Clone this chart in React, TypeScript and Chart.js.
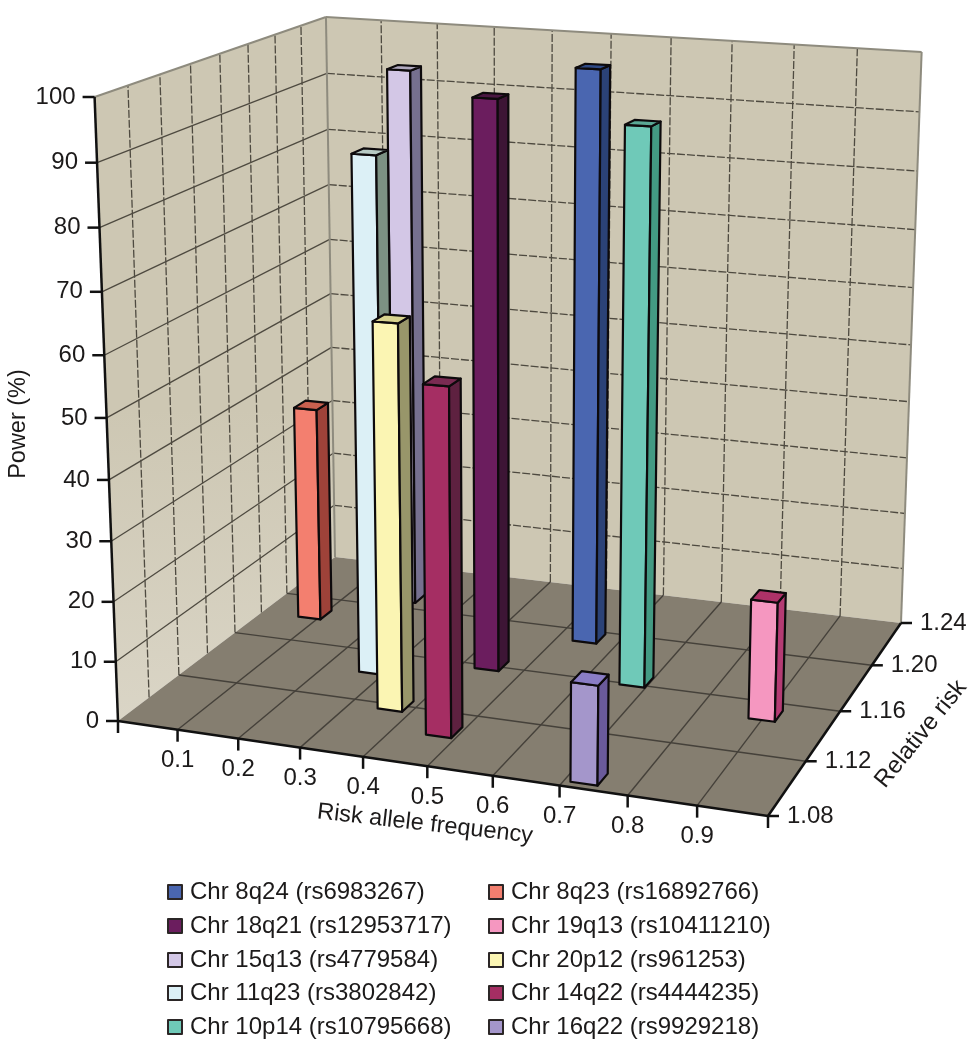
import React, { useEffect, useRef } from "react";
import { Chart, registerables } from "chart.js";

Chart.register(...registerables);

// ---- data ----
const loci = [
  "Chr 8q24 (rs6983267)",
  "Chr 18q21 (rs12953717)",
  "Chr 15q13 (rs4779584)",
  "Chr 11q23 (rs3802842)",
  "Chr 10p14 (rs10795668)",
  "Chr 8q23 (rs16892766)",
  "Chr 19q13 (rs10411210)",
  "Chr 20p12 (rs961253)",
  "Chr 14q22 (rs4444235)",
  "Chr 16q22 (rs9929218)",
];
const riskAlleleFrequency = [0.548, 0.444, 0.203, 0.28, 0.678, 0.086, 0.9, 0.367, 0.474, 0.73];
const relativeRisk = [1.194, 1.161, 1.21, 1.146, 1.163, 1.185, 1.15, 1.12, 1.106, 1.088];
const power = [98.2, 95.5, 94.7, 86.9, 92.4, 37.8, 19.8, 63.7, 56.6, 15.8];

const powerTicks = [0, 10, 20, 30, 40, 50, 60, 70, 80, 90, 100];
const frequencyTicks = [0.1, 0.2, 0.3, 0.4, 0.5, 0.6, 0.7, 0.8, 0.9];
const frequencyGrid = [0, 0.1, 0.2, 0.3, 0.4, 0.5, 0.6, 0.7, 0.8, 0.9, 1];
const riskTicks = [1.08, 1.12, 1.16, 1.2, 1.24];
const riskWallGrid = [1.08, 1.1, 1.12, 1.14, 1.16, 1.18, 1.2, 1.22, 1.24];

// ---- styles ----
const frontColors = ["#4A66B0", "#6B1D5E", "#D3C7E6", "#DCF0F6", "#6FC9B8", "#F37F6F", "#F597C0", "#FBF5B3", "#A52E63", "#A496CB"];
const sideColors = ["#2B4277", "#3D1535", "#76708F", "#7C9183", "#439A83", "#9E4239", "#B43B73", "#98966A", "#5E2140", "#6A5A9B"];
const topColors = ["#2F4A86", "#4A1842", "#AFA8BE", "#B7CAC4", "#5AA895", "#C9604F", "#AE3268", "#D8D38F", "#7A2B52", "#8A7DC6"];

const FONT = "'Liberation Sans', Arial, sans-serif";
const INK = "#1c1a1a";
const WALL = "#CDC7B3";
const WALL_LOW = "#DAD5C6";
const FLOOR = "#857E70";
const GRID = "#4e4a40";
const FLOOR_GRID = "#45413a";
const EDGE = "#8e8b7e";

// camera: floor corners, top corners and the vanishing point of the verticals
const cam = {
  A: [118, 721],
  B: [768, 816],
  C: [901, 623],
  D: [335, 557],
  topA: [95, 97],
  topC: [922, 52],
  topD: [325, 17],
  V: [515, 11300],
};
const BAR_DU = 0.02;
const BAR_DV = 0.028;

function makeProjector() {
  const { A, B, C, D, V, topA, topC, topD } = cam;
  const dx1 = B[0] - C[0], dx2 = D[0] - C[0], sx = A[0] - B[0] + C[0] - D[0];
  const dy1 = B[1] - C[1], dy2 = D[1] - C[1], sy = A[1] - B[1] + C[1] - D[1];
  const den = dx1 * dy2 - dx2 * dy1;
  const g = (sx * dy2 - dx2 * sy) / den;
  const h = (dx1 * sy - sx * dy1) / den;
  const a = B[0] * (1 + g) - A[0], d = B[1] * (1 + g) - A[1];
  const b = D[0] * (1 + h) - A[0], e = D[1] * (1 + h) - A[1];
  const kFor = (P: number[], top: number[], W: number) => (W * (top[1] - P[1])) / (V[1] - top[1]);
  const kA = kFor(A, topA, 1);
  const kD = kFor(D, topD, 1 + h);
  const kC = kFor(C, topC, 1 + g + h);
  return (u: number, v: number, w: number): [number, number] => {
    const W = 1 + g * u + h * v;
    const k = kA + v * (kD - kA) + u * v * (kC - kD);
    const q = W + w * k;
    return [
      (a * u + b * v + A[0] + w * k * V[0]) / q,
      (d * u + e * v + A[1] + w * k * V[1]) / q,
    ];
  };
}

const view3d = {
  id: "view3d",
  beforeDatasetsDraw(chart: any) {
    const { ctx, chartArea: area, scales } = chart;
    const project = makeProjector();
    const U = (f: number) => (scales.x.getPixelForValue(f) - area.left) / area.width;
    const W = (p: number) => (area.bottom - scales.y.getPixelForValue(p)) / area.height;
    const R = (r: number) => (scales.rr.getPixelForValue(r) - area.left) / area.width;

    const poly = (pts: number[][], fill: any, stroke: string | null, lw = 1) => {
      ctx.beginPath();
      pts.forEach((p, i) => (i ? ctx.lineTo(p[0], p[1]) : ctx.moveTo(p[0], p[1])));
      ctx.closePath();
      if (fill) {
        ctx.fillStyle = fill;
        ctx.fill();
      }
      if (stroke) {
        ctx.strokeStyle = stroke;
        ctx.lineWidth = lw;
        ctx.stroke();
      }
    };
    const line = (p: number[], q: number[], color: string, lw: number, dash: number[] = []) => {
      ctx.beginPath();
      ctx.setLineDash(dash);
      ctx.moveTo(p[0], p[1]);
      ctx.lineTo(q[0], q[1]);
      ctx.strokeStyle = color;
      ctx.lineWidth = lw;
      ctx.stroke();
      ctx.setLineDash([]);
    };
    const text = (s: string, x: number, y: number, align: CanvasTextAlign, size: number, rot = 0) => {
      ctx.save();
      ctx.translate(x, y);
      ctx.rotate((rot * Math.PI) / 180);
      ctx.font = `${size}px ${FONT}`;
      ctx.fillStyle = INK;
      ctx.textAlign = align;
      ctx.textBaseline = "middle";
      ctx.fillText(s, 0, 0);
      ctx.restore();
    };

    ctx.save();
    ctx.lineJoin = "round";

    // walls and floor
    const leftTop = project(0, 0, 1);
    const leftLow = project(0, 0, 0);
    const leftWall = ctx.createLinearGradient(0, leftTop[1], 0, leftLow[1]);
    leftWall.addColorStop(0, WALL);
    leftWall.addColorStop(0.5, WALL);
    leftWall.addColorStop(1, WALL_LOW);
    poly([project(0, 0, 0), project(0, 1, 0), project(0, 1, 1), project(0, 0, 1)], leftWall, null);
    poly([project(0, 1, 0), project(1, 1, 0), project(1, 1, 1), project(0, 1, 1)], WALL, null);
    poly([project(0, 0, 0), project(1, 0, 0), project(1, 1, 0), project(0, 1, 0)], FLOOR, null);

    // wall grid
    powerTicks.slice(1, -1).forEach((p) => {
      line(project(0, 0, W(p)), project(0, 1, W(p)), GRID, 1.3);
      line(project(0, 1, W(p)), project(1, 1, W(p)), GRID, 1.3, [8, 2]);
    });
    riskWallGrid.slice(1, -1).forEach((r) => line(project(0, R(r), 0), project(0, R(r), 1), GRID, 1.3, [8, 2]));
    frequencyGrid.slice(1, -1).forEach((f) => line(project(U(f), 1, 0), project(U(f), 1, 1), GRID, 1.3, [8, 2]));

    // wall edges
    line(project(0, 0, 1), project(0, 1, 1), EDGE, 2);
    line(project(0, 1, 1), project(1, 1, 1), EDGE, 2);
    line(project(1, 1, 1), project(1, 1, 0), EDGE, 2);
    line(project(0, 1, 0), project(0, 1, 1), EDGE, 2);

    // floor grid
    frequencyGrid.slice(1, -1).forEach((f) => line(project(U(f), 0, 0), project(U(f), 1, 0), FLOOR_GRID, 1.4));
    riskTicks.slice(1, -1).forEach((r) => line(project(0, R(r), 0), project(1, R(r), 0), FLOOR_GRID, 1.4));

    // bars, back to front
    chart.data.datasets
      .map((ds: any, i: number) => ({ f: ds.data[0].x, p: ds.data[0].y, r: ds.rr, i }))
      .sort((m: any, n: any) => n.r - m.r)
      .forEach((bar: any) => {
        const uL = U(bar.f) - BAR_DU, uR = U(bar.f) + BAR_DU;
        const vF = R(bar.r) - BAR_DV, vB = R(bar.r) + BAR_DV;
        const top = W(bar.p);
        ctx.setLineDash([]);
        poly([project(uL, vF, 0), project(uR, vF, 0), project(uR, vF, top), project(uL, vF, top)], frontColors[bar.i], "#0d0a0c", 2.2);
        poly([project(uR, vF, 0), project(uR, vB, 0), project(uR, vB, top), project(uR, vF, top)], sideColors[bar.i], "#0d0a0c", 2.2);
        poly([project(uL, vF, top), project(uR, vF, top), project(uR, vB, top), project(uL, vB, top)], topColors[bar.i], "#0d0a0c", 2.2);
      });

    // axes
    line(project(0, 0, 0), project(0, 0, 1), "#111", 2.5);
    line(project(0, 0, 0), project(1, 0, 0), "#111", 2.5);
    line(project(1, 0, 0), project(1, 1, 0), "#111", 2.5);

    powerTicks.forEach((p) => {
      const q = project(0, 0, W(p));
      line([q[0] - 12, q[1]], q, "#111", 2.5);
      text(String(p), q[0] - 19, q[1], "right", 24);
    });
    [0, 1].forEach((f) => {
      const q = project(f, 0, 0);
      line(q, [q[0], q[1] + 12], "#111", 2.5);
    });
    frequencyTicks.forEach((f) => {
      const q = project(U(f), 0, 0);
      line(q, [q[0], q[1] + 12], "#111", 2.5);
      text(f.toFixed(1), q[0], q[1] + 31, "center", 24);
    });
    riskTicks.forEach((r) => {
      const q = project(1, R(r), 0);
      line(q, [q[0] + 11, q[1]], "#111", 2.5);
      text(r.toFixed(2), q[0] + 19, q[1], "left", 24);
    });

    // axis titles
    text("Power (%)", 19, 424, "center", 23.5, -90);
    text("Risk allele frequency", 425, 824, "center", 23.5, 6.5);
    text("Relative risk", 921, 734, "center", 24, -51);

    // legend: five rows in two columns
    const columns = [168, 489];
    const rows = [892, 926, 960, 993, 1027];
    chart.data.datasets.forEach((ds: any, i: number) => {
      const x = columns[Math.floor(i / rows.length)];
      const y = rows[i % rows.length];
      ctx.fillStyle = ds.backgroundColor;
      ctx.strokeStyle = "#2b2626";
      ctx.lineWidth = 2;
      ctx.fillRect(x, y - 7, 14, 14);
      ctx.strokeRect(x, y - 7, 14, 14);
      text(ds.label, x + 22, y, "left", 24);
    });
    ctx.restore();
  },
};

export default function App() {
  const ref = useRef<HTMLCanvasElement | null>(null);
  useEffect(() => {
    document.body.style.margin = "0";
    const chart = new Chart(ref.current as HTMLCanvasElement, {
      type: "scatter",
      data: {
        datasets: loci.map((label, i) => ({
          label,
          rr: relativeRisk[i],
          data: [{ x: riskAlleleFrequency[i], y: power[i] }],
          backgroundColor: frontColors[i],
          pointRadius: 0,
        })) as any,
      },
      options: {
        animation: false,
        responsive: false,
        layout: { padding: 0 },
        plugins: { legend: { display: false }, tooltip: { enabled: false } },
        scales: {
          x: { type: "linear", min: 0, max: 1, display: false },
          y: { type: "linear", min: 0, max: 100, display: false },
          rr: { type: "linear", axis: "x", min: 1.08, max: 1.24, display: false },
        } as any,
      },
      plugins: [view3d as any],
    });
    return () => chart.destroy();
  }, []);
  return <canvas ref={ref} width={974} height={1050} style={{ display: "block" }} />;
}
